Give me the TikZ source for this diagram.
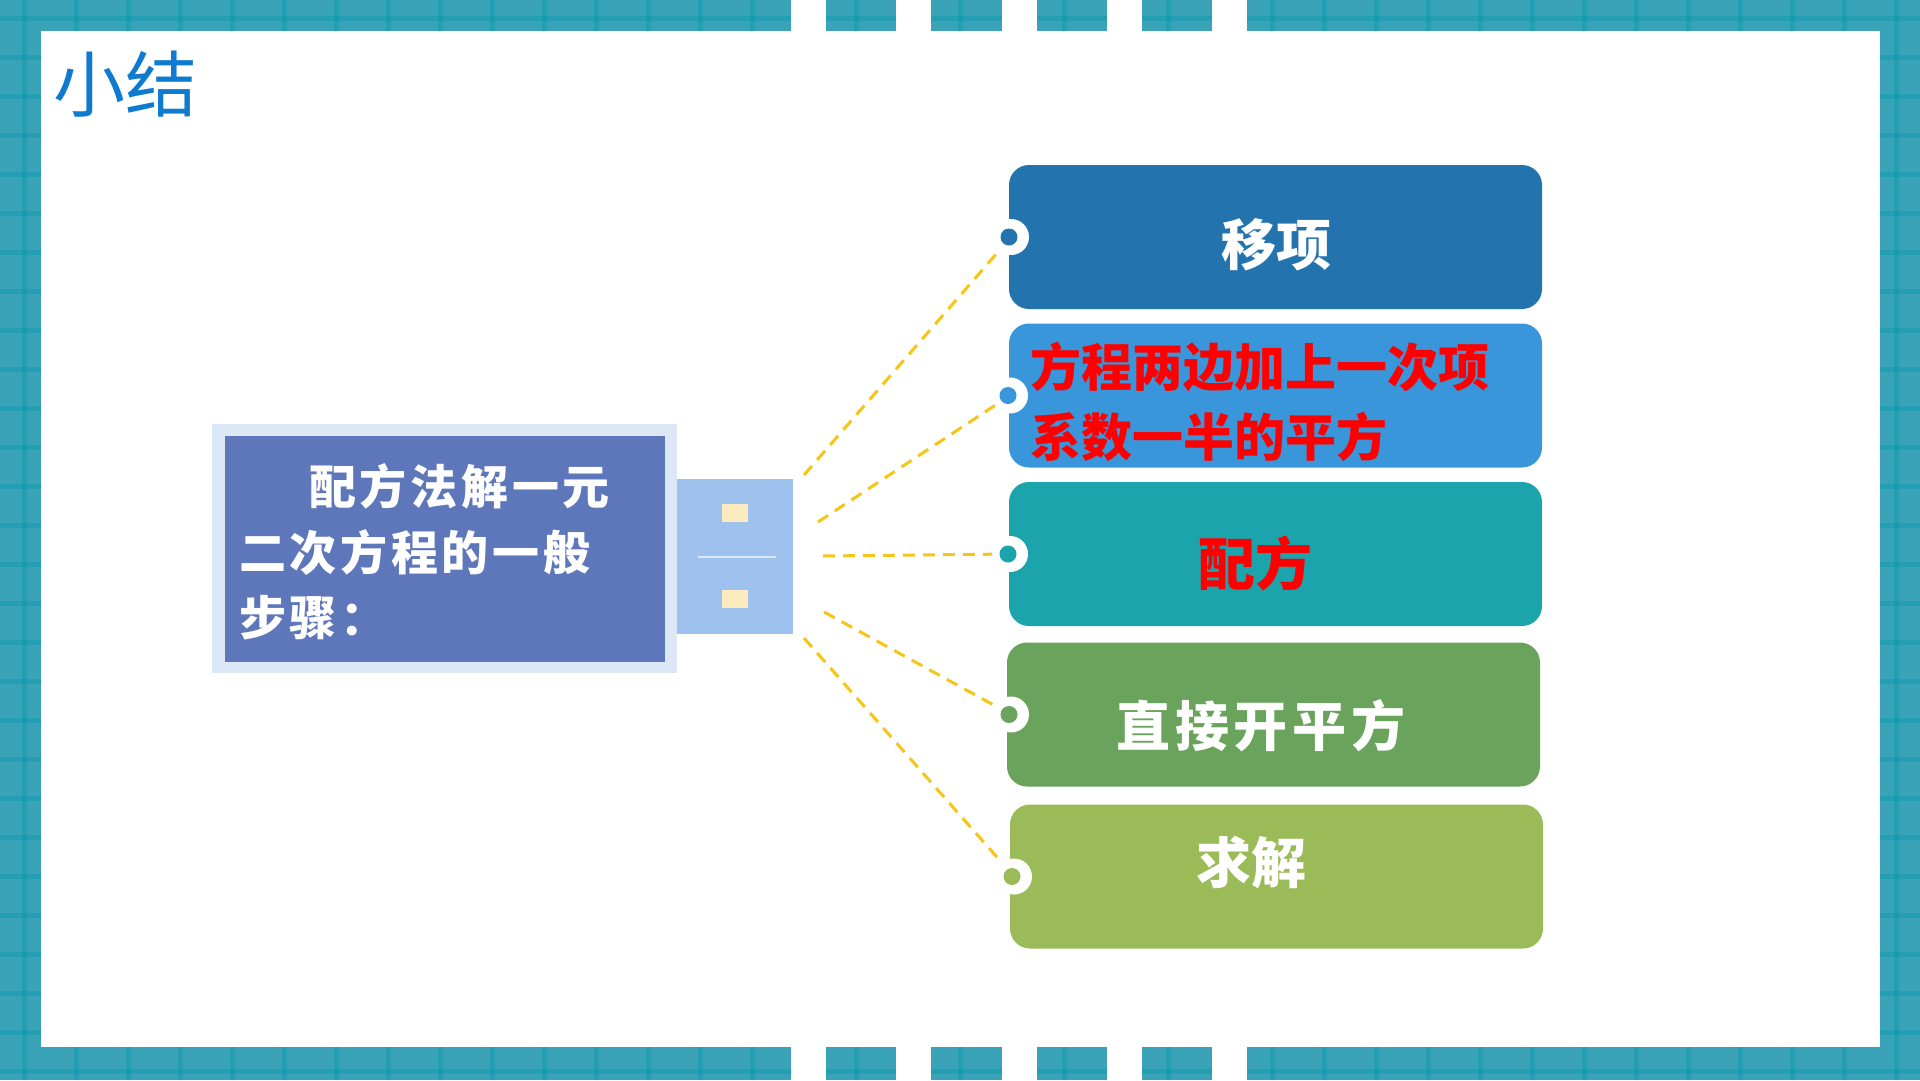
\documentclass[tikz,border=0pt]{standalone}
\usepackage{fontspec}
\newfontfamily\cjk{Noto Sans CJK SC}
\newfontfamily\cjkh{Noto Sans CJK SC Black}
\newcommand\lsp[1]{\addfontfeature{LetterSpace=#1}}
\definecolor{tealbg}{HTML}{3AA3B7}
\definecolor{gridc}{HTML}{0A98B0}
\definecolor{titlec}{HTML}{0E7BD0}
\definecolor{outerc}{HTML}{DDE8F7}
\definecolor{innerc}{HTML}{5E77BA}
\definecolor{usbc}{HTML}{9EC1EE}
\definecolor{padc}{HTML}{FDEBC0}
\definecolor{usbline}{HTML}{DCE8F6}
\definecolor{boxa}{HTML}{2373AE}
\definecolor{boxb}{HTML}{3A96DA}
\definecolor{boxc}{HTML}{1CA4AD}
\definecolor{boxd}{HTML}{6AA35B}
\definecolor{boxe}{HTML}{9BBB59}
\definecolor{dashy}{HTML}{F5C518}
\definecolor{redt}{HTML}{FF0000}
\begin{document}
\begin{tikzpicture}[x=1pt,y=-1pt,
  plain/.style={inner sep=0pt, outer sep=0pt, draw=none},
  stepbox/.style={plain, rounded corners=20pt, minimum width=533pt, minimum height=144pt},
  notchring/.style={plain, circle, fill=white, minimum size=36pt},
  notchdot/.style={plain, circle, minimum size=17pt},
  link/.style={draw=dashy, line width=3pt, dash pattern=on 12pt off 8pt},
  whitetxt/.style={plain, text=white, font=\cjkh\fontsize{55}{60}\selectfont},
  redtxt/.style={plain, text=redt, font=\cjkh\fontsize{51}{70}\selectfont},
  lefttxt/.style={plain, text=white, align=left, font=\cjkh\fontsize{47}{65.5}\selectfont\lsp{8}},
  titletxt/.style={plain, text=titlec, font=\cjk\fontsize{72}{80}\selectfont}
]
\useasboundingbox (0,0) rectangle (1920,1080);
% border background
\fill[tealbg] (0,0) rectangle (1920,1080);
\foreach \x in {24,76,...,1920} \fill[gridc, opacity=0.45] (\x-2.5,0) rectangle (\x+2.5,1080);
\foreach \y in {18,57,...,1080} \fill[gridc, opacity=0.45] (0,\y-2.5) rectangle (1920,\y+2.5);
\fill[white] (41,31) rectangle (1880,1047);
\foreach \g in {791,896,1002,1107,1212} {
  \fill[white] (\g,0) rectangle (\g+35,31);
  \fill[white] (\g,1047) rectangle (\g+35,1080);
}
% title
\node[titletxt] (title) at (125,84) {小结};
% left block
\node[plain, fill=outerc, minimum width=465pt, minimum height=249pt] (frame) at (444.5,548.5) {};
\node[plain, fill=innerc, minimum width=440pt, minimum height=226pt] (inner) at (445,549) {};
\node[plain, fill=usbc, minimum width=116pt, minimum height=155pt] (usb) at (735,556.5) {};
\node[plain, fill=padc, minimum width=26pt, minimum height=18pt] (pada) at (735,513) {};
\node[plain, fill=padc, minimum width=26pt, minimum height=18pt] (padb) at (735,599) {};
\draw[usbline, line width=2pt] ([xshift=-37pt]usb.center) -- ([xshift=41pt]usb.center);
\node[lefttxt, anchor=west] (ltxt) at (239,552) {\hspace*{70pt}配方法解一元\\二次方程的一般\\步骤：};
% right boxes
\node[stepbox, fill=boxa] (b1) at (1275.5,237) {};
\node[stepbox, fill=boxb] (b2) at (1275.5,395.5) {};
\node[stepbox, fill=boxc] (b3) at (1275.5,554) {};
\node[stepbox, fill=boxd] (b4) at (1273.5,714.5) {};
\node[stepbox, fill=boxe] (b5) at (1276.5,876.5) {};
% notches
\node[notchring] (n1) at ([xshift=2pt]b1.west) {};
\node[notchring] (n2) at ([xshift=1pt]b2.west) {};
\node[notchring] (n3) at ([xshift=1pt]b3.west) {};
\node[notchring] (n4) at ([xshift=4pt]b4.west) {};
\node[notchring] (n5) at ([xshift=4pt]b5.west) {};
\node[notchdot, fill=boxa] (d1) at ([xshift=-2pt]n1.center) {};
\node[notchdot, fill=boxb] (d2) at ([xshift=-2pt]n2.center) {};
\node[notchdot, fill=boxc] (d3) at ([xshift=-2pt]n3.center) {};
\node[notchdot, fill=boxd] (d4) at ([xshift=-2pt]n4.center) {};
\node[notchdot, fill=boxe] (d5) at ([xshift=-2pt]n5.center) {};
% texts
\node[whitetxt] (t1) at (1276,245) {移项};
\node[redtxt, anchor=west, align=left] (t2) at (1030,402) {方程两边加上一次项\\系数一半的平方};
\node[redtxt, font=\cjkh\fontsize{57}{60}\selectfont] (t3) at (1255,563) {配方};
\node[whitetxt, font=\cjkh\fontsize{54}{60}\selectfont\lsp{9}] (t4) at (1261,726) {直接开平方};
\node[whitetxt] (t5) at (1251,863) {求解};
% connectors
\coordinate (s1) at (804,475);
\coordinate (s2) at (818,522);
\coordinate (s3) at (823,556);
\coordinate (s4) at (824,612);
\coordinate (s5) at (804,638);
\draw[link] (s1) -- (n1);
\draw[link] (s2) -- (n2);
\draw[link] (s3) -- (n3);
\draw[link] (s4) -- (n4);
\draw[link] (s5) -- (n5);
\end{tikzpicture}
\end{document}
